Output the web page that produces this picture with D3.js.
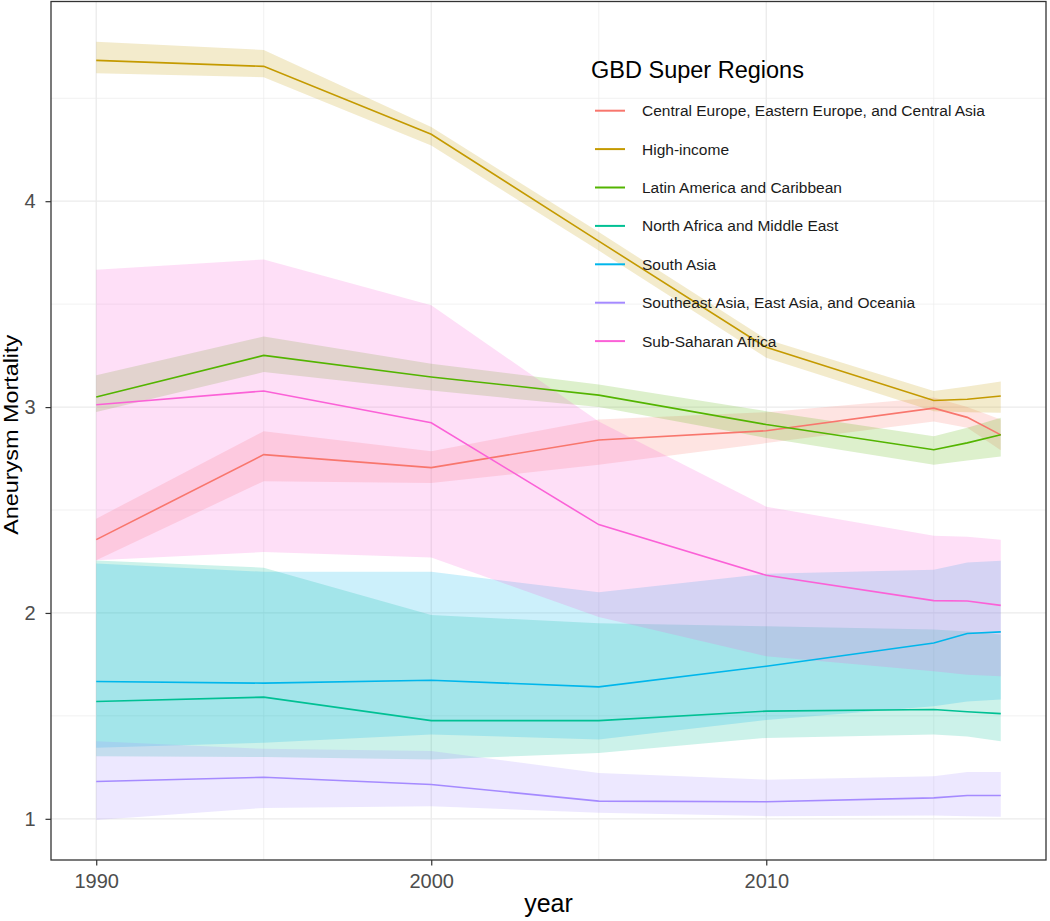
<!DOCTYPE html>
<html>
<head>
<meta charset="utf-8">
<script src="https://cdn.jsdelivr.net/npm/d3@7"></script>
<style>
  html, body { margin: 0; padding: 0; background: #fff; }
  svg { display: block; font-family: "Liberation Sans", Arial, Helvetica, sans-serif; }
</style>
</head>
<body>
<svg id="chart" width="1050" height="921"></svg>
<script>
// ---------------- data ----------------
const years = [1990, 1995, 2000, 2005, 2010, 2015, 2016, 2017];
const regions = [
  "Central Europe, Eastern Europe, and Central Asia",
  "High-income",
  "Latin America and Caribbean",
  "North Africa and Middle East",
  "South Asia",
  "Southeast Asia, East Asia, and Oceania",
  "Sub-Saharan Africa"
];
const colors = ["#F8766D", "#C49A00", "#53B400", "#00C094", "#00B6EB", "#A58AFF", "#FB61D7"];

const ceMean  = [2.356, 2.769, 2.706, 2.840, 2.885, 2.995, 2.950, 2.865];
const ceLow   = [2.256, 2.640, 2.631, 2.720, 2.825, 2.930, 2.900, 2.790];
const ceHigh  = [2.458, 2.883, 2.786, 2.940, 2.975, 3.046, 3.000, 2.940];

const hiMean  = [4.684, 4.655, 4.325, 3.806, 3.290, 3.032, 3.038, 3.054];
const hiLow   = [4.621, 4.602, 4.270, 3.760, 3.240, 2.980, 2.975, 2.972];
const hiHigh  = [4.775, 4.735, 4.360, 3.850, 3.330, 3.078, 3.100, 3.124];

const laMean  = [3.049, 3.251, 3.146, 3.058, 2.915, 2.793, 2.826, 2.866];
const laLow   = [2.976, 3.170, 3.080, 3.000, 2.850, 2.720, 2.740, 2.760];
const laHigh  = [3.154, 3.343, 3.210, 3.110, 2.980, 2.858, 2.900, 2.948];

const nameMean = [1.570, 1.591, 1.477, 1.477, 1.523, 1.531, 1.520, 1.511];
const nameLow  = [1.304, 1.300, 1.288, 1.320, 1.393, 1.410, 1.400, 1.377];
const nameHigh = [2.255, 2.220, 1.990, 1.950, 1.935, 1.920, 1.910, 1.895];

const saMean  = [1.667, 1.659, 1.673, 1.641, 1.741, 1.854, 1.900, 1.908];
const saLow   = [1.345, 1.370, 1.410, 1.385, 1.480, 1.547, 1.570, 1.579];
const saHigh  = [2.240, 2.200, 2.200, 2.100, 2.190, 2.210, 2.245, 2.253];

const seaMean = [1.181, 1.202, 1.167, 1.086, 1.083, 1.102, 1.113, 1.113];
const seaLow  = [0.994, 1.053, 1.061, 1.029, 1.013, 1.016, 1.012, 1.010];
const seaHigh = [1.377, 1.340, 1.330, 1.223, 1.190, 1.207, 1.228, 1.228];

const ssaMean = [3.011, 3.078, 2.924, 2.429, 2.183, 2.060, 2.058, 2.037];
const ssaLow  = [2.256, 2.296, 2.269, 1.980, 1.790, 1.717, 1.700, 1.693];
const ssaHigh = [3.667, 3.717, 3.494, 2.930, 2.516, 2.375, 2.370, 2.355];

const xTicks = [1990, 2000, 2010];
const xMinor = [1995, 2005, 2015];
const yTicks = [1, 2, 3, 4];
const yMinor = [1.5, 2.5, 3.5, 4.5];

const means = [ceMean, hiMean, laMean, nameMean, saMean, seaMean, ssaMean];
const lows  = [ceLow, hiLow, laLow, nameLow, saLow, seaLow, ssaLow];
const highs = [ceHigh, hiHigh, laHigh, nameHigh, saHigh, seaHigh, ssaHigh];

const series = regions.map((name, i) => ({
  name, color: colors[i],
  values: years.map((yr, j) => ({ year: yr, mean: means[i][j], low: lows[i][j], high: highs[i][j] }))
}));

// ---------------- layout ----------------
const svg = d3.select("#chart");
const panel = { left: 51, right: 1046, top: 1.5, bottom: 860 };

const x = d3.scaleLinear().domain([1988.65, 2018.35]).range([panel.left, panel.right]);
const y = d3.scaleLinear().domain([0.80, 4.97]).range([panel.bottom, panel.top]);

// panel background
svg.append("rect").attr("x", panel.left).attr("y", panel.top)
  .attr("width", panel.right - panel.left).attr("height", panel.bottom - panel.top)
  .attr("fill", "#fff");

// grid
const grid = svg.append("g");
grid.selectAll(".ymin").data(yMinor).join("line")
  .attr("x1", panel.left).attr("x2", panel.right)
  .attr("y1", d => y(d)).attr("y2", d => y(d))
  .attr("stroke", "#EBEBEB").attr("stroke-width", 0.7);
grid.selectAll(".xmin").data(xMinor).join("line")
  .attr("y1", panel.top).attr("y2", panel.bottom)
  .attr("x1", d => x(d)).attr("x2", d => x(d))
  .attr("stroke", "#EBEBEB").attr("stroke-width", 0.7);
grid.selectAll(".ymaj").data(yTicks).join("line")
  .attr("x1", panel.left).attr("x2", panel.right)
  .attr("y1", d => y(d)).attr("y2", d => y(d))
  .attr("stroke", "#EBEBEB").attr("stroke-width", 1.3);
grid.selectAll(".xmaj").data(xTicks).join("line")
  .attr("y1", panel.top).attr("y2", panel.bottom)
  .attr("x1", d => x(d)).attr("x2", d => x(d))
  .attr("stroke", "#EBEBEB").attr("stroke-width", 1.3);

// ribbons
const area = d3.area().x(d => x(d.year)).y0(d => y(d.low)).y1(d => y(d.high));
svg.append("g").selectAll("path").data(series).join("path")
  .attr("d", d => area(d.values))
  .attr("fill", d => d.color).attr("fill-opacity", 0.2);

// lines
const line = d3.line().x(d => x(d.year)).y(d => y(d.mean));
svg.append("g").selectAll("path").data(series).join("path")
  .attr("d", d => line(d.values))
  .attr("fill", "none").attr("stroke", d => d.color).attr("stroke-width", 1.6);

// panel border
svg.append("rect").attr("x", panel.left).attr("y", panel.top)
  .attr("width", panel.right - panel.left).attr("height", panel.bottom - panel.top)
  .attr("fill", "none").attr("stroke", "#333333").attr("stroke-width", 1.3);

// axes
const xAxis = svg.append("g").attr("transform", `translate(0,${panel.bottom})`)
  .call(d3.axisBottom(x).tickValues(xTicks).tickFormat(d3.format("d")).tickSize(5.5).tickPadding(8));
const yAxis = svg.append("g").attr("transform", `translate(${panel.left},0)`)
  .call(d3.axisLeft(y).tickValues(yTicks).tickFormat(d3.format("d")).tickSize(5.5).tickPadding(10));
[xAxis, yAxis].forEach(g => {
  g.select(".domain").remove();
  g.selectAll(".tick line").attr("stroke", "#333333").attr("stroke-width", 1.2);
  g.selectAll(".tick text").attr("fill", "#4D4D4D")
    .style("font-size", "20px").style("font-family", "'Liberation Sans', Arial, sans-serif");
});

// axis titles
svg.append("text").attr("x", (panel.left + panel.right) / 2).attr("y", 912)
  .attr("text-anchor", "middle").attr("fill", "#000")
  .style("font-size", "25px").text("year");
svg.append("text")
  .attr("transform", `translate(18,${(panel.top + panel.bottom) / 2 + 4}) rotate(-90)`)
  .attr("text-anchor", "middle").attr("fill", "#000")
  .attr("textLength", 200).attr("lengthAdjust", "spacingAndGlyphs")
  .style("font-size", "20px").text("Aneurysm Mortality");

// legend
const legend = svg.append("g");
legend.append("text").attr("x", 591).attr("y", 78)
  .attr("fill", "#000").style("font-size", "23.5px").text("GBD Super Regions");
const items = legend.selectAll(".item").data(series).join("g")
  .attr("transform", (d, i) => `translate(0,${110.7 + i * 38.4})`);
items.append("line").attr("x1", 595).attr("x2", 625).attr("y1", 0).attr("y2", 0)
  .attr("stroke", d => d.color).attr("stroke-width", 2);
items.append("text").attr("x", 642).attr("y", 5.5)
  .attr("fill", "#1a1a1a").style("font-size", "15.5px").text(d => d.name);
</script>
</body>
</html>
